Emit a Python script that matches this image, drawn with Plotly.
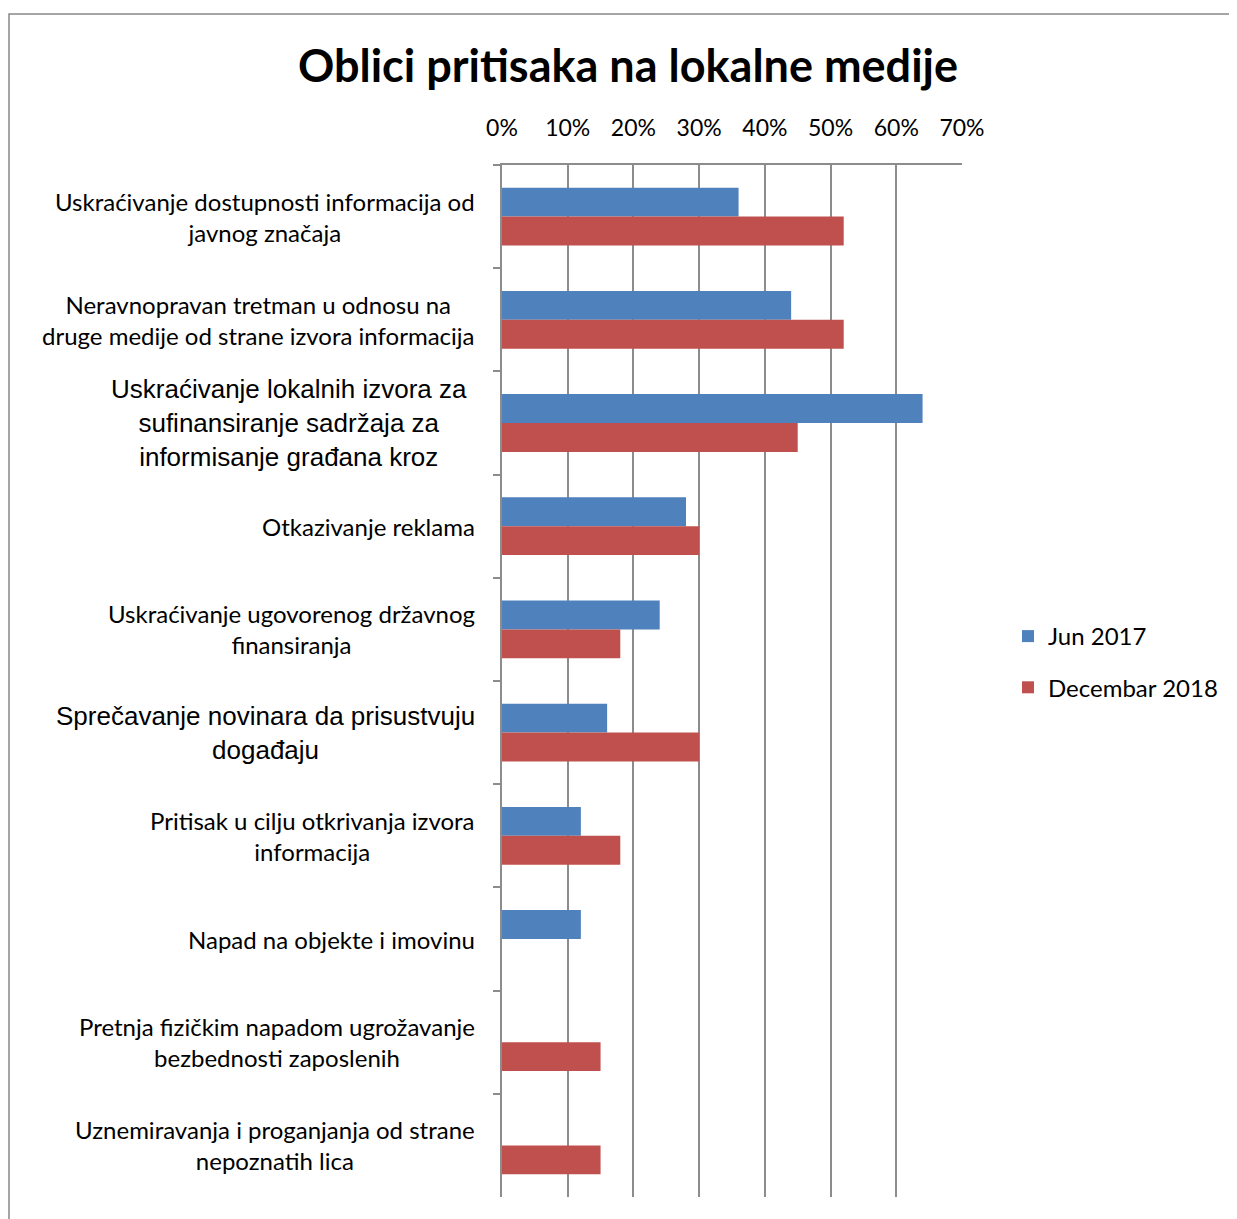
import plotly.graph_objects as go

categories = [
    "Uskraćivanje dostupnosti informacija od<br>javnog značaja",
    "Neravnopravan tretman u odnosu na<br>druge medije od strane izvora informacija",
    "Uskraćivanje lokalnih izvora za<br>sufinansiranje sadržaja za<br>informisanje građana kroz",
    "Otkazivanje reklama",
    "Uskraćivanje ugovorenog državnog<br>finansiranja",
    "Sprečavanje novinara da prisustvuju<br>događaju",
    "Pritisak u cilju otkrivanja izvora<br>informacija",
    "Napad na objekte i imovinu",
    "Pretnja fizičkim napadom ugrožavanje<br>bezbednosti zaposlenih",
    "Uznemiravanja i proganjanja od strane<br>nepoznatih lica",
]
jun_2017 = [36, 44, 64, 28, 24, 16, 12, 12, 0, 0]
dec_2018 = [52, 52, 45, 30, 18, 30, 18, 0, 15, 15]
x_ticks = [0, 10, 20, 30, 40, 50, 60, 70]
x_tick_labels = ["0%", "10%", "20%", "30%", "40%", "50%", "60%", "70%"]

arial_labels = {2, 5}

# page body has an 8px margin, so figure coords = screen coords - 8
W, H = 1229, 1211
L, T = 494, 157
pw, ph = 460, 1032
R, B = W - L - pw, H - T - ph

fig = go.Figure()
fig.add_trace(go.Bar(y=categories, x=jun_2017, orientation="h", name="Jun 2017",
                     marker=dict(color="#4F81BD", line=dict(width=0)),
                     legendgroup="a"))
fig.add_trace(go.Bar(y=categories, x=dec_2018, orientation="h", name="Decembar 2018",
                     marker=dict(color="#C0504D", line=dict(width=0)),
                     legendgroup="b"))

grid = "#8C8C8C"
fig.update_layout(
    width=W, height=H,
    margin=dict(l=L, r=R, t=T, b=B, autoexpand=False),
    paper_bgcolor="white", plot_bgcolor="white",
    barmode="group", bargap=0.44, bargroupgap=0,
    font=dict(family="Lato, Open Sans, sans-serif", size=24, color="black"),
    title=dict(text="<b>Oblici pritisaka na lokalne medije</b>",
               font=dict(family="Lato, Open Sans, sans-serif", size=45, color="black"),
               x=(620) / W, xanchor="center", y=1 - 58 / H, yanchor="middle"),
    legend=dict(x=(1000 - L) / pw, xanchor="left", y=1 - (654 - T) / ph, yanchor="middle",
                font=dict(size=24), traceorder="grouped", tracegroupgap=17,
                itemwidth=30),
    xaxis=dict(side="top", range=[0, 70], tickvals=x_ticks, ticktext=x_tick_labels,
               showgrid=True, gridcolor=grid, gridwidth=1.5,
               showline=True, linecolor=grid, linewidth=1.5,
               ticks="", ticklabelstandoff=18, zeroline=False,
               tickfont=dict(size=23)),
    yaxis=dict(type="category", categoryorder="array", categoryarray=categories,
               range=[len(categories) - 0.5, -0.5],
               showticklabels=False, ticks="outside", tickson="boundaries",
               ticklen=7, tickcolor=grid, tickwidth=1.5,
               showline=True, linecolor=grid, linewidth=1.5, showgrid=False),
)

for i, lab in enumerate(categories):
    if i in arial_labels:
        f = dict(family="Liberation Sans, Arial, sans-serif", size=26, color="black")
        shift = -33 if i == 2 else -25
    else:
        f = dict(family="Lato, Open Sans, sans-serif", size=24, color="black")
        shift = -25
    fig.add_annotation(x=0, xref="paper", y=lab, yref="y", text=lab, showarrow=False,
                       xanchor="right", yanchor="middle", align="center",
                       xshift=shift, font=f)

# outer chart frame
fig.add_shape(type="rect", xref="paper", yref="paper",
              x0=(1 - L) / pw, x1=(W + 20 - L) / pw,
              y0=-(B + 20) / ph, y1=1 + (T - 6) / ph,
              line=dict(color="#888888", width=1.5), layer="below")

fig.write_html("out.html")
